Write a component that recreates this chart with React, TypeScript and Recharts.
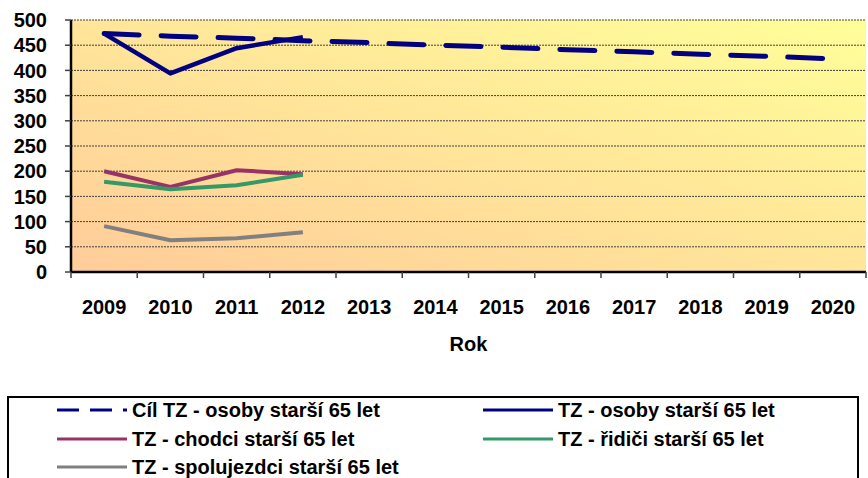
import React from 'react';
import { LineChart, Line, XAxis, YAxis, CartesianGrid, Legend } from 'recharts';

const FONT = "'Liberation Sans', Arial, Helvetica, sans-serif";

const years = ['2009', '2010', '2011', '2012', '2013', '2014', '2015', '2016', '2017', '2018', '2019', '2020'];
const cilTZ = [473, 468, 464, 459, 455, 450, 446, 441, 437, 432, 428, 423];
const tzOsoby = [473, 394, 444, 466];
const tzChodci = [200, 169, 202, 194];
const tzRidici = [179, 164, 172, 193];
const tzSpolujezdci = [91, 63, 67, 79];
const yTicks = [0, 50, 100, 150, 200, 250, 300, 350, 400, 450, 500];

const seriesNames = {
  cil: 'Cíl TZ - osoby starší 65 let',
  osoby: 'TZ - osoby starší 65 let',
  chodci: 'TZ - chodci starší 65 let',
  ridici: 'TZ - řidiči starší 65 let',
  spolujezdci: 'TZ - spolujezdci starší 65 let',
};

const data = years.map((rok, i) => ({
  rok,
  cil: cilTZ[i],
  osoby: tzOsoby[i] ?? null,
  chodci: tzChodci[i] ?? null,
  ridici: tzRidici[i] ?? null,
  spolujezdci: tzSpolujezdci[i] ?? null,
}));

const CHART_W = 868;
const MARGIN = { top: 20, right: 2, left: 0, bottom: 127 };
const Y_W = 71;
const PLOT_W = CHART_W - MARGIN.left - MARGIN.right - Y_W;
const HALF_STEP = PLOT_W / years.length / 2;
const BORDER = { stroke: '#000', strokeWidth: 2.5 };

const legendItems = [
  { name: seriesNames.cil, color: '#000080', dash: '22 11' },
  { name: seriesNames.osoby, color: '#000080', dash: undefined },
  { name: seriesNames.chodci, color: '#993366', dash: undefined },
  { name: seriesNames.ridici, color: '#339966', dash: undefined },
  { name: seriesNames.spolujezdci, color: '#808080', dash: undefined },
];

const LegendBox = () => {
  const colLine = [50, 476];
  const lineLen = 70;
  const rowY = [14, 43, 71];
  return (
    <svg width={852} height={100} style={{ display: 'block', overflow: 'visible' }}>
      <rect x={1} y={1} width={850} height={200} fill="#fff" stroke="#000" strokeWidth={2} />
      {legendItems.map((it, i) => {
        const c = i % 2;
        const r = Math.floor(i / 2);
        const x0 = colLine[c];
        const y = rowY[r];
        return (
          <g key={it.name}>
            <line x1={x0} x2={x0 + lineLen} y1={y} y2={y} stroke={it.color} strokeWidth={3} strokeDasharray={it.dash} />
            <text x={x0 + lineLen + 5} y={y} dy="0.36em" fontFamily={FONT} fontWeight="bold" fontSize={20} fill="#000">
              {it.name}
            </text>
          </g>
        );
      })}
    </svg>
  );
};

const XTick = (props: any) => {
  const { x, y, payload, index } = props;
  const off = HALF_STEP;
  return (
    <g>
      <line x1={x + off} x2={x + off} y1={y} y2={y + 6} stroke="#404040" strokeWidth={1.5} />
      {index === 0 && <line x1={x - off} x2={x - off} y1={y} y2={y + 6} stroke="#404040" strokeWidth={1.5} />}
      <text x={x} y={y + 28} dy="0.71em" textAnchor="middle" fontFamily={FONT} fontWeight="bold" fontSize={20} fill="#000">
        {payload.value}
      </text>
    </g>
  );
};

export default function App() {
  return (
    <div style={{ position: 'absolute', left: 0, top: 0, width: 868, height: 478, background: '#fff', overflow: 'hidden' }}>
      <LineChart width={CHART_W} height={478} data={data} margin={MARGIN}>
        <defs>
          <linearGradient id="plotBg" x1="0" y1="1" x2="1" y2="0">
            <stop offset="0%" stopColor="#FFCC99" />
            <stop offset="100%" stopColor="#FFFF99" />
          </linearGradient>
        </defs>
        <CartesianGrid vertical={false} stroke="#404040" strokeDasharray="2 1" fill="url(#plotBg)" fillOpacity={1} />
        <XAxis
          dataKey="rok"
          height={79}
          interval={0}
          padding={{ left: HALF_STEP, right: HALF_STEP }}
          tickLine={false}
          axisLine={BORDER}
          tickSize={0}
          tickMargin={0}
          tick={<XTick />}
          label={{ value: 'Rok', position: 'insideBottom', offset: 0, fill: '#000', fontSize: 20, fontWeight: 'bold', fontFamily: FONT }}
        />
        <XAxis xAxisId="top" orientation="top" dataKey="rok" height={0} tick={false} tickLine={false} axisLine={BORDER} />
        <YAxis
          domain={[0, 500]}
          ticks={yTicks}
          interval={0}
          width={Y_W}
          tickSize={6}
          tickMargin={18}
          axisLine={BORDER}
          tickLine={{ stroke: '#404040', strokeWidth: 1.5 }}
          tick={{ fill: '#000', fontSize: 20, fontWeight: 'bold', fontFamily: FONT }}
        />
        <YAxis yAxisId="right" orientation="right" domain={[0, 500]} width={0} tick={false} tickLine={false} axisLine={BORDER} />
        <Line dataKey="cil" name={seriesNames.cil} stroke="#000080" strokeWidth={5} strokeDasharray="35 22" strokeLinecap="round" dot={false} isAnimationActive={false} />
        <Line dataKey="osoby" name={seriesNames.osoby} stroke="#000080" strokeWidth={4.5} strokeLinejoin="round" dot={false} isAnimationActive={false} />
        <Line dataKey="chodci" name={seriesNames.chodci} stroke="#993366" strokeWidth={4} strokeLinejoin="round" dot={false} isAnimationActive={false} />
        <Line dataKey="ridici" name={seriesNames.ridici} stroke="#339966" strokeWidth={4} strokeLinejoin="round" dot={false} isAnimationActive={false} />
        <Line dataKey="spolujezdci" name={seriesNames.spolujezdci} stroke="#808080" strokeWidth={4} strokeLinejoin="round" dot={false} isAnimationActive={false} />
        <Legend
          layout="horizontal"
          verticalAlign="middle"
          align="center"
          content={<LegendBox />}
          wrapperStyle={{ left: 7, top: 396, width: 852, height: 100, margin: 0, padding: 0 }}
        />
      </LineChart>
    </div>
  );
}
